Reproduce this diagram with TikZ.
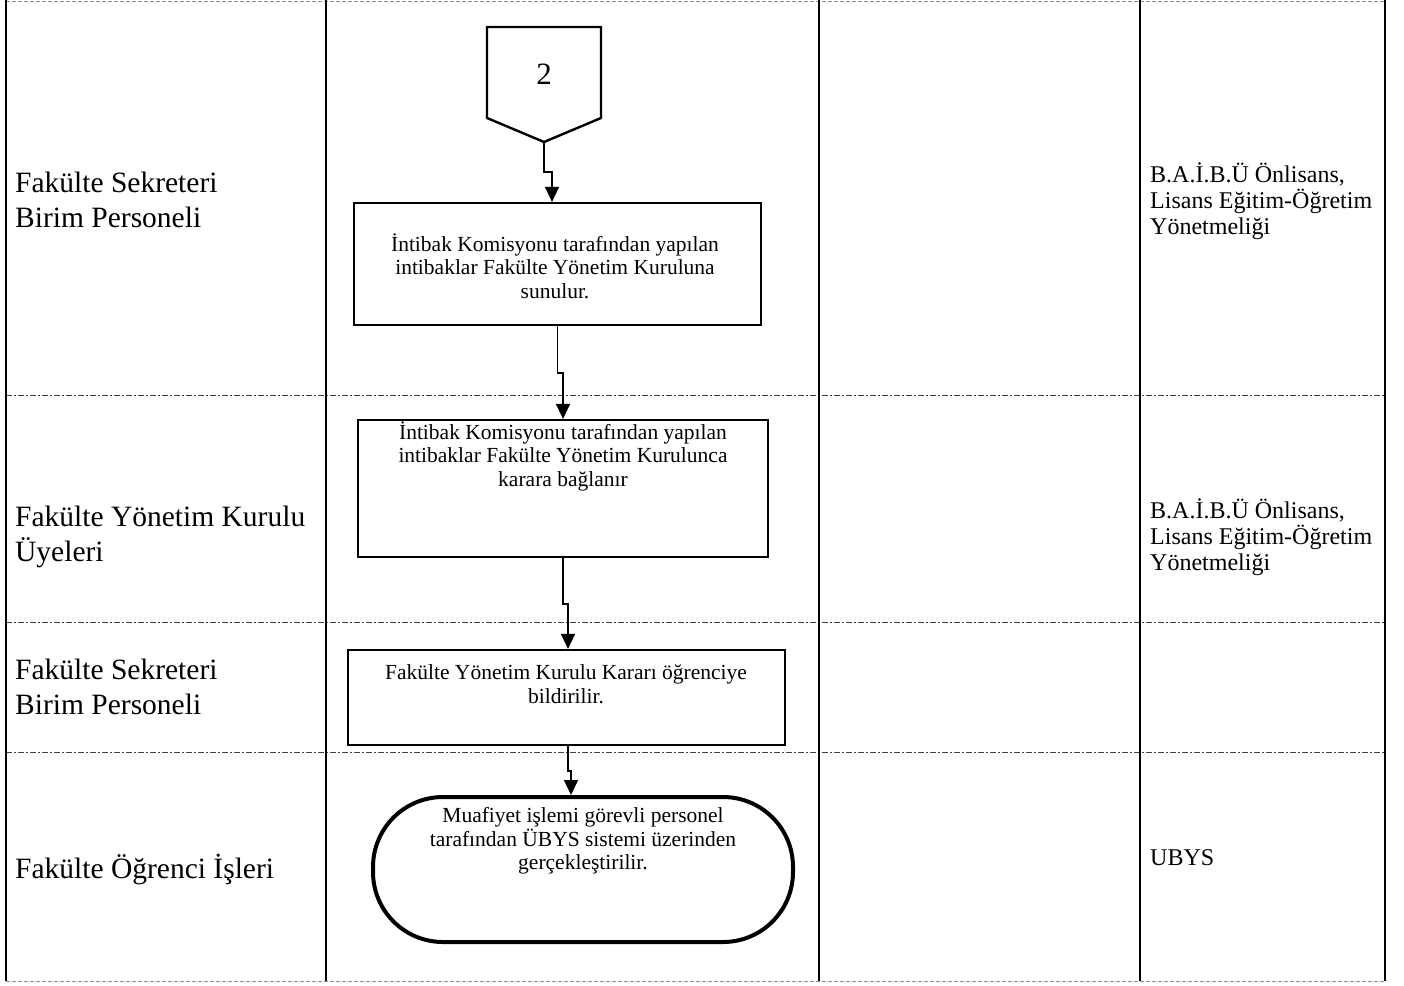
\documentclass[tikz,border=0pt]{standalone}
\usepackage{fontspec}
\setmainfont{Liberation Serif}
\usetikzlibrary{arrows.meta,positioning}

\begin{document}
\begin{tikzpicture}[
	x=1pt, y=-1pt,
	lane/.style={line width=2pt},
	rowsep/.style={draw=black!75, line width=0.8pt, dash pattern=on 6pt off 2pt on 2pt off 2pt},
	edge/.style={draw=black!45, line width=1pt, dash pattern=on 4pt off 2pt},
	box/.style={rectangle, draw, line width=2.2pt, inner sep=0pt},
	term/.style={rectangle, draw, line width=4pt, rounded corners=70pt, inner sep=0pt},
	flow/.style={line width=1.4pt, -{Triangle[length=15pt,width=14pt]}},
	txt/.style={align=center, inner sep=0pt, font=\fontsize{21.5}{23.5}\selectfont},
	role/.style={anchor=west, align=left, inner sep=0pt, font=\fontsize{29.5}{35}\selectfont},
	doc/.style={anchor=west, align=left, inner sep=0pt, font=\fontsize{24}{26}\selectfont}
]
\useasboundingbox (0,0) rectangle (1404,985);

% table frame
\draw[edge] (6,1) -- (1385,1);
\draw[edge] (6,981) -- (1385,981);
\foreach \y in {395,622,752}
	\draw[rowsep] (6,\y) -- (1385,\y);
\foreach \x in {6,326,819,1140,1385}
	\draw[lane] (\x,0) -- (\x,981);

% roles
\node[role] (r1) at (15,200) {Fakülte Sekreteri\\Birim Personeli};
\node[role] (r2) at (15,537) {Fakülte Yönetim Kurulu\\Üyeleri};
\node[role] (r3) at (15,687) {Fakülte Sekreteri\\Birim Personeli};
\node[role] (r4) at (15,869) {Fakülte Öğrenci İşleri};

% documents
\node[doc] (d1) at (1150,201) {B.A.İ.B.Ü Önlisans,\\Lisans Eğitim-Öğretim\\Yönetmeliği};
\node[doc] (d2) at (1150,537) {B.A.İ.B.Ü Önlisans,\\Lisans Eğitim-Öğretim\\Yönetmeliği};
\node[doc] (d3) at (1150,858) {UBYS};

% off-page connector
\draw[line width=2.4pt, line join=miter] (487,27) -- (601,27) -- (601,118) coordinate (c2r)
	-- (544,142) coordinate (c2tip) -- (487,118) -- cycle;
\node[font=\fontsize{31}{33}\selectfont] (c2) at (544,74) {2};

% steps
\node[box, minimum width=407pt, minimum height=122pt] (b1) at (557.5,264) {};
\node[txt] (b1t) at (555,266) {İntibak Komisyonu tarafından yapılan\\intibaklar Fakülte Yönetim Kuruluna\\sunulur.};

\node[box, minimum width=410pt, minimum height=137pt] (b2) at (563,488.5) {};
\node[txt] (b2t) at (563,456) {İntibak Komisyonu tarafından yapılan\\intibaklar Fakülte Yönetim Kurulunca\\karara bağlanır};

\node[box, minimum width=437pt, minimum height=95pt] (b3) at (566.5,697.5) {};
\node[txt] (b3t) at (566,684) {Fakülte Yönetim Kurulu Kararı öğrenciye\\bildirilir.};

\node[term, minimum width=420pt, minimum height=145pt] (t4) at (583,869.5) {};
\node[txt] (t4t) at (583,841) {Muafiyet işlemi görevli personel\\tarafından ÜBYS sistemi üzerinden\\gerçekleştirilir.};

% connectors
\draw[flow] (c2tip) -- ++(0,30) -| ([xshift=-5.5pt]b1.north);
\draw[flow] (b1.south) -- ++(0,47) -| (b2.north);
\draw[flow] (b2.south) -- ++(0,46) -| ([xshift=1.5pt]b3.north);
\draw[flow] ([xshift=1.5pt]b3.south) -- ++(0,25) -| ([xshift=-12pt]t4.north);
\end{tikzpicture}
\end{document}
